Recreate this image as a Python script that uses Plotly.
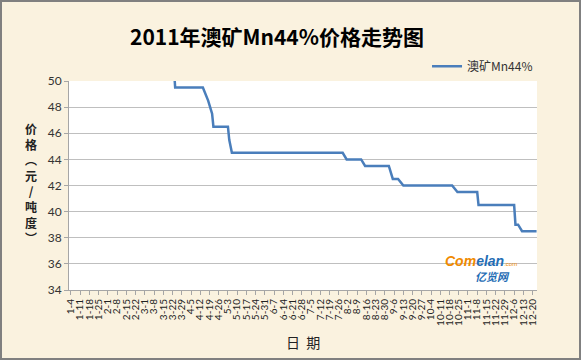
import plotly.graph_objects as go
import datetime as dt

# ---- data ----
dates = ["2011-01-04", "2011-03-23", "2011-03-24", "2011-04-14", "2011-04-18",
         "2011-04-19", "2011-04-21", "2011-04-22", "2011-05-03", "2011-05-04",
         "2011-05-06", "2011-07-29", "2011-08-01", "2011-08-12", "2011-08-15",
         "2011-09-02", "2011-09-05", "2011-09-09", "2011-09-13", "2011-10-20",
         "2011-10-24", "2011-11-08", "2011-11-09", "2011-12-06", "2011-12-07",
         "2011-12-09", "2011-12-12", "2011-12-23"]
prices = [51, 51, 49.5, 49.5, 48.5,
          48.2, 47.5, 46.5, 46.5, 45.5,
          44.5, 44.5, 44, 44, 43.5,
          43.5, 42.5, 42.5, 42, 42,
          41.5, 41.5, 40.5, 40.5, 39,
          39, 38.5, 38.5]
series_name = "澳矿Mn44%"

# weekly tick labels 1-4 ... 12-20
tick_start = dt.date(2011, 1, 4)
tick_dates = [tick_start + dt.timedelta(days=7 * i) for i in range(51)]
tick_vals = [d.isoformat() for d in tick_dates]
tick_text = [f"{d.month}-{d.day}" for d in tick_dates]

title_text = "2011年澳矿Mn44%价格走势图"
y_title = "价<br>格<br>︵<br>元<br>/<br>吨<br>度<br>︶"
x_title = "日  期"

fig = go.Figure()
fig.add_trace(go.Scatter(
    x=dates, y=prices, mode="lines", name=series_name,
    line=dict(color="#4A7EBB", width=2.5),
))

fig.update_layout(
    width=581, height=360,
    margin=dict(l=69, r=44, t=81, b=70, autoexpand=False),
    paper_bgcolor="#FAF2DF",
    plot_bgcolor="#FFFFFF",
    font=dict(family="Lato, 'Noto Sans CJK SC', sans-serif", color="#333333"),
    showlegend=True,
    legend=dict(x=0.765, y=1.14, xanchor="left", yanchor="top",
                bgcolor="rgba(0,0,0,0)", font=dict(size=12, color="#333333",
                family="'Noto Sans CJK SC', sans-serif"),
                itemwidth=30),
    xaxis=dict(
        type="date",
        range=["2011-01-02 12:00", "2011-12-23 08:00"],
        tickmode="array", tickvals=tick_vals, ticktext=tick_text,
        tickangle=-90, tickfont=dict(size=10, color="#222222"),
        ticks="outside", ticklen=4, tickcolor="#A6A6A6",
        showline=True, linecolor="#A6A6A6", linewidth=1,
        showgrid=False, zeroline=False, automargin=False,
    ),
    yaxis=dict(
        range=[34, 50], dtick=2, tick0=34,
        tickfont=dict(size=12, color="#333333"),
        ticks="outside", ticklen=4, tickcolor="#A6A6A6",
        showline=True, linecolor="#A6A6A6", linewidth=1,
        showgrid=True, gridcolor="#BFBFBF", gridwidth=1,
        zeroline=False, automargin=False,
    ),
)

fig.add_annotation(
    text="<b>" + title_text + "</b>", xref="paper", yref="paper",
    x=0.445, y=1.215, xanchor="center", yanchor="middle", showarrow=False,
    font=dict(size=21, color="#000000", family="'Noto Sans CJK SC', sans-serif"),
)
fig.add_annotation(
    text="<b>" + y_title + "</b>", xref="paper", yref="paper",
    x=-0.082, y=0.51, xanchor="center", yanchor="middle", showarrow=False,
    font=dict(size=12, color="#222222", family="'Noto Sans CJK SC', sans-serif"),
)
fig.add_annotation(
    text=x_title, xref="paper", yref="paper",
    x=0.5, y=-0.25, xanchor="center", yanchor="middle", showarrow=False,
    font=dict(size=14, color="#222222", family="'Noto Sans CJK SC', sans-serif"),
)
# watermark logo
fig.add_annotation(
    text="<b><i><span style='color:#F08A00'>Com</span><span style='color:#1F6DB5'>elan</span></i></b>"
         "<span style='color:#F08A00;font-size:6px'>.com</span>",
    xref="paper", yref="paper", x=0.88, y=0.14, xanchor="center", yanchor="middle",
    showarrow=False, font=dict(size=14, family="Liberation Sans, sans-serif"),
)
fig.add_annotation(
    text="<b><i>亿览网</i></b>",
    xref="paper", yref="paper", x=0.905, y=0.065, xanchor="center", yanchor="middle",
    showarrow=False, font=dict(size=11, color="#1F6DB5", family="'Noto Sans CJK SC', sans-serif"),
)
# outer frame
fig.add_shape(type="rect", xref="paper", yref="paper",
              x0=-68/468, x1=1+43/468, y0=-69/209, y1=1+80/209,
              line=dict(color="#808080", width=2), layer="below")

fig.write_html("out.html", config={"displayModeBar": False},
               post_script="document.body.style.margin='0';")
